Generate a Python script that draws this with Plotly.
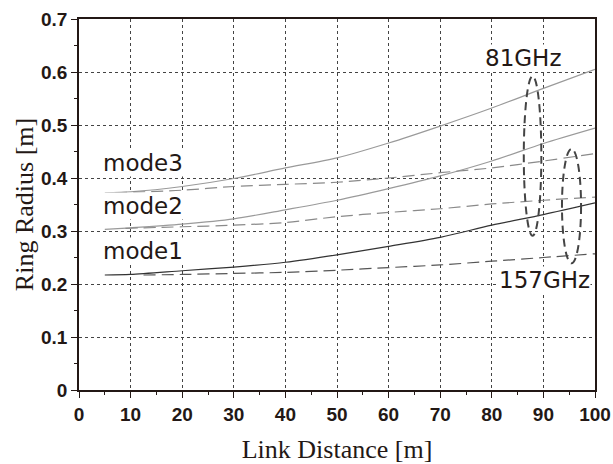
import plotly.graph_objects as go

# ---- data ----
x_solid = [5, 10, 20, 30, 40, 50, 60, 70, 80, 90, 100]
mode1_81 = [0.217, 0.218, 0.225, 0.232, 0.241, 0.255, 0.271, 0.288, 0.311, 0.331, 0.353]
mode2_81 = [0.303, 0.306, 0.313, 0.323, 0.340, 0.358, 0.380, 0.404, 0.432, 0.465, 0.494]
mode3_81 = [0.372, 0.374, 0.384, 0.399, 0.419, 0.438, 0.466, 0.498, 0.532, 0.569, 0.605]

x_m1_157 = [12.5, 20, 30, 40, 50, 60, 70, 80, 90, 100]
mode1_157 = [0.217, 0.218, 0.220, 0.222, 0.226, 0.231, 0.236, 0.243, 0.250, 0.257]
x_m2_157 = [9, 20, 30, 40, 50, 60, 70, 80, 90, 100]
mode2_157 = [0.305, 0.308, 0.311, 0.316, 0.327, 0.335, 0.342, 0.351, 0.358, 0.364]
x_m3_157 = [7, 20, 30, 40, 50, 60, 70, 80, 90, 100]
mode3_157 = [0.372, 0.377, 0.384, 0.388, 0.392, 0.400, 0.410, 0.419, 0.432, 0.446]

mode_labels = ["mode1", "mode2", "mode3"]
mode_label_y = [0.263, 0.348, 0.429]
freq_labels = ["81GHz", "157GHz"]

x_ticks = [0, 10, 20, 30, 40, 50, 60, 70, 80, 90, 100]
y_ticks = [0, 0.1, 0.2, 0.3, 0.4, 0.5, 0.6, 0.7]
y_tick_text = ["0", "0.1", "0.2", "0.3", "0.4", "0.5", "0.6", "0.7"]

fig = go.Figure()

gray = "#9a9a9a"
dgray = "#8a8a8a"
dark = "#333333"

fig.add_trace(go.Scatter(x=x_solid, y=mode1_81, mode="lines", line=dict(color=dark, width=1.2, shape="spline", smoothing=0.8)))
fig.add_trace(go.Scatter(x=x_solid, y=mode2_81, mode="lines", line=dict(color=gray, width=1.2, shape="spline", smoothing=0.8)))
fig.add_trace(go.Scatter(x=x_solid, y=mode3_81, mode="lines", line=dict(color=gray, width=1.2, shape="spline", smoothing=0.8)))
fig.add_trace(go.Scatter(x=x_m1_157, y=mode1_157, mode="lines", line=dict(color="#555555", width=1.2, dash="12px,6px", shape="spline", smoothing=0.8)))
fig.add_trace(go.Scatter(x=x_m2_157, y=mode2_157, mode="lines", line=dict(color=dgray, width=1.2, dash="12px,6px", shape="spline", smoothing=0.8)))
fig.add_trace(go.Scatter(x=x_m3_157, y=mode3_157, mode="lines", line=dict(color=dgray, width=1.2, dash="12px,6px", shape="spline", smoothing=0.8)))

# ellipses marking frequencies
fig.add_shape(type="circle", xref="x", yref="y", x0=86.2, x1=89.6, y0=0.291, y1=0.592,
              line=dict(color="#444444", width=2, dash="8px,5px"))
fig.add_shape(type="circle", xref="x", yref="y", x0=93.6, x1=97.3, y0=0.239, y1=0.455,
              line=dict(color="#444444", width=2, dash="8px,5px"))

txt_font = dict(family="DejaVu Sans, sans-serif", size=23, color="#231815")
for lab, yy in zip(mode_labels, mode_label_y):
    fig.add_annotation(x=12.4, y=yy, text=lab, showarrow=False, font=txt_font,
                       bgcolor="white", xanchor="center", yanchor="middle", borderpad=0)
fig.add_annotation(x=86.0, y=0.626, text=freq_labels[0], showarrow=False, font=txt_font,
                   bgcolor="white", xanchor="center", yanchor="middle", borderpad=0)
fig.add_annotation(x=90.3, y=0.207, text=freq_labels[1], showarrow=False, font=txt_font,
                   bgcolor="white", xanchor="center", yanchor="middle", borderpad=0)

tick_font = dict(family="Liberation Sans, Arial, sans-serif", size=19, color="#231815", weight="bold")
title_font = dict(family="Liberation Serif, Times New Roman, serif", size=26, color="#231815")

fig.update_xaxes(range=[0, 100], tickvals=x_ticks, ticktext=[str(v) for v in x_ticks],
                 showline=True, linecolor="#231815", linewidth=1.5, mirror=True,
                 ticks="outside", ticklen=6, tickcolor="#231815",
                 minor=dict(dtick=5, ticks="outside", ticklen=3, tickcolor="#231815", showgrid=False),
                 showgrid=True, gridcolor="#444444", griddash="dot", gridwidth=1,
                 zeroline=False, tickfont=tick_font, automargin=False,
                 title=dict(text="Link Distance [m]", font=title_font, standoff=23))
fig.update_yaxes(range=[0, 0.7], tickvals=y_ticks, ticktext=y_tick_text,
                 showline=True, linecolor="#231815", linewidth=1.5, mirror=True,
                 ticks="outside", ticklen=6, tickcolor="#231815",
                 minor=dict(dtick=0.05, ticks="outside", ticklen=3, tickcolor="#231815", showgrid=False),
                 showgrid=True, gridcolor="#444444", griddash="dot", gridwidth=1,
                 zeroline=False, tickfont=tick_font, automargin=False,
                 title=dict(text="Ring Radius [m]", font=title_font, standoff=0))

fig.update_layout(width=613, height=464, margin=dict(l=79, r=18, t=19, b=74),
                  paper_bgcolor="white", plot_bgcolor="white", showlegend=False)

fig.write_html("out.html", config={"displayModeBar": False},
               post_script="document.body.style.margin='0px';document.body.style.overflow='hidden';")
